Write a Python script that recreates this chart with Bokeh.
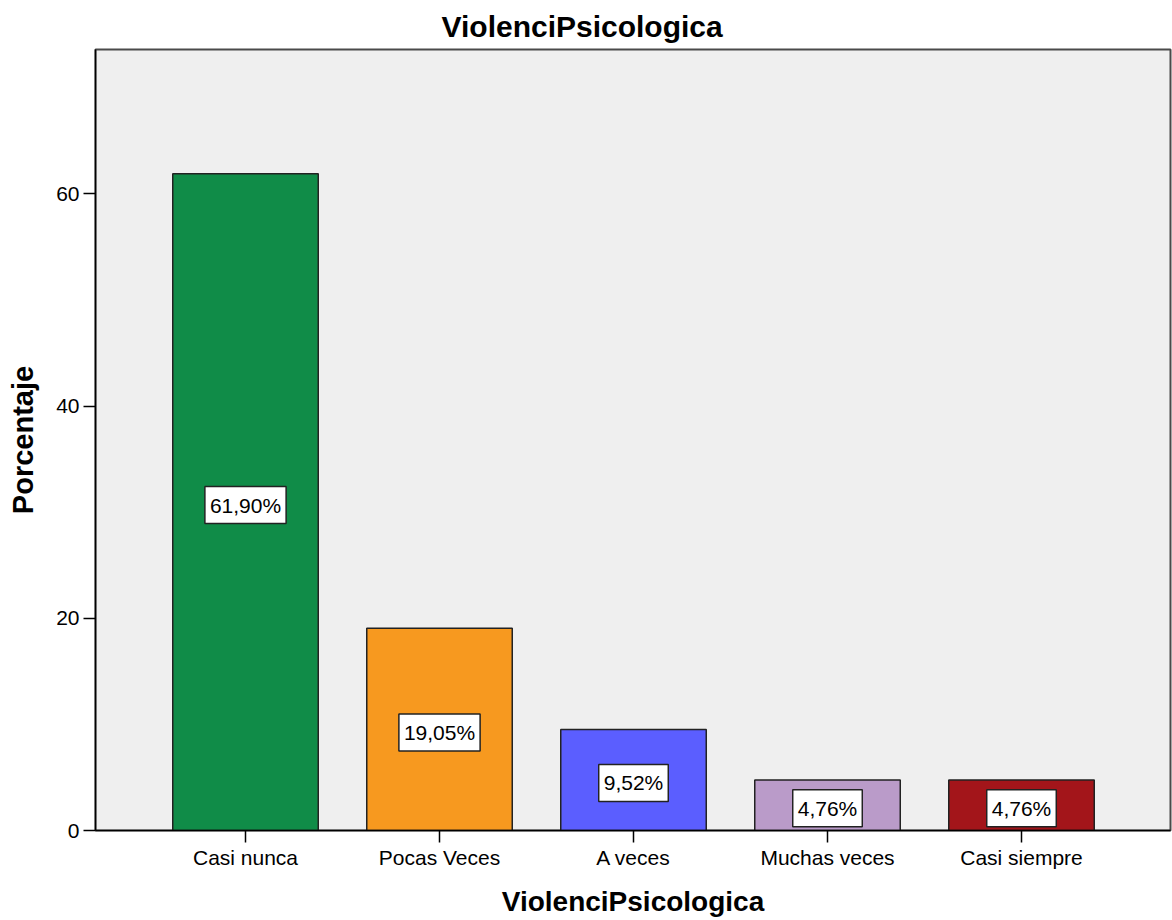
from bokeh.plotting import figure
from bokeh.models import ColumnDataSource, Range1d, FixedTicker
from bokeh.core.properties import value
from bokeh.embed import file_html
from bokeh.resources import INLINE

categories = ["Casi nunca", "Pocas Veces", "A veces", "Muchas veces", "Casi siempre"]
percentages = [61.90, 19.05, 9.52, 4.76, 4.76]
bar_colors = ["#108c48", "#f7991f", "#5b5eff", "#ba9bc9", "#a3151a"]
y_ticks = [0, 20, 40, 60]

xs = list(range(1, len(categories) + 1))
labels = [("%.2f%%" % v).replace(".", ",") for v in percentages]
mids = [v / 2 for v in percentages]

src = ColumnDataSource(dict(x=xs, top=percentages, color=bar_colors, label=labels, mid=mids))

FONT = "Liberation Sans"

p = figure(width=1172, height=920, output_backend="svg", toolbar_location=None,
           x_range=Range1d(0.2268, 5.768), y_range=Range1d(0, 73.6),
           min_border_left=95, min_border_right=2, min_border_top=49, min_border_bottom=90,
           title="ViolenciPsicologica")

p.title.text_font = FONT
p.title.text_font_size = "30px"
p.title.text_font_style = "bold"
p.title.align = "left"
p.title.offset = 346
p.title.standoff = 10
p.title.vertical_align = "top"
p.title.text_color = "#000000"

p.background_fill_color = "#efefef"
p.border_fill_color = "#ffffff"
p.outline_line_color = "#4a4a4a"
p.outline_line_width = 2
p.xgrid.visible = False
p.ygrid.visible = False

p.vbar(x="x", top="top", bottom=0, width=0.75, fill_color="color",
       line_color="#222222", line_width=1.5, source=src)

p.text(x="x", y="mid", text="label", source=src,
       text_align="center", text_baseline="middle", y_offset=3,
       text_font=value(FONT), text_font_size="21px", text_color="#000000",
       background_fill_color="#ffffff", border_line_color="#222222",
       border_line_width=1.5, padding=dict(left=5, right=5, top=7, bottom=7))

# X axis
p.xaxis.ticker = FixedTicker(ticks=xs)
p.xaxis.major_label_overrides = {x: c for x, c in zip(xs, categories)}
p.xaxis.minor_tick_line_color = None
p.xaxis.major_tick_out = 12
p.xaxis.major_tick_in = 0
p.xaxis.major_tick_line_color = "#000000"
p.xaxis.major_tick_line_width = 1.5
p.xaxis.axis_line_color = "#000000"
p.xaxis.axis_line_width = 1.5
p.xaxis.major_label_text_font = FONT
p.xaxis.major_label_text_font_size = "21px"
p.xaxis.major_label_text_color = "#000000"
p.xaxis.major_label_standoff = 3
p.xaxis.axis_label = "ViolenciPsicologica"
p.xaxis.axis_label_text_font = FONT
p.xaxis.axis_label_text_font_size = "28px"
p.xaxis.axis_label_text_font_style = "bold"
p.xaxis.axis_label_text_color = "#000000"
p.xaxis.axis_label_standoff = 14

# Y axis
p.yaxis.ticker = FixedTicker(ticks=y_ticks)
p.yaxis.minor_tick_line_color = None
p.yaxis.major_tick_out = 12
p.yaxis.major_tick_in = 0
p.yaxis.major_tick_line_color = "#000000"
p.yaxis.major_tick_line_width = 1.5
p.yaxis.axis_line_color = "#000000"
p.yaxis.axis_line_width = 1.5
p.yaxis.major_label_text_font = FONT
p.yaxis.major_label_text_font_size = "21px"
p.yaxis.major_label_text_color = "#000000"
p.yaxis.major_label_standoff = 4
p.yaxis.axis_label = "Porcentaje"
p.yaxis.axis_label_text_font = FONT
p.yaxis.axis_label_text_font_size = "29px"
p.yaxis.axis_label_text_font_style = "bold"
p.yaxis.axis_label_text_color = "#000000"
p.yaxis.axis_label_standoff = 14

open("out.html", "w").write(file_html(p, INLINE))
